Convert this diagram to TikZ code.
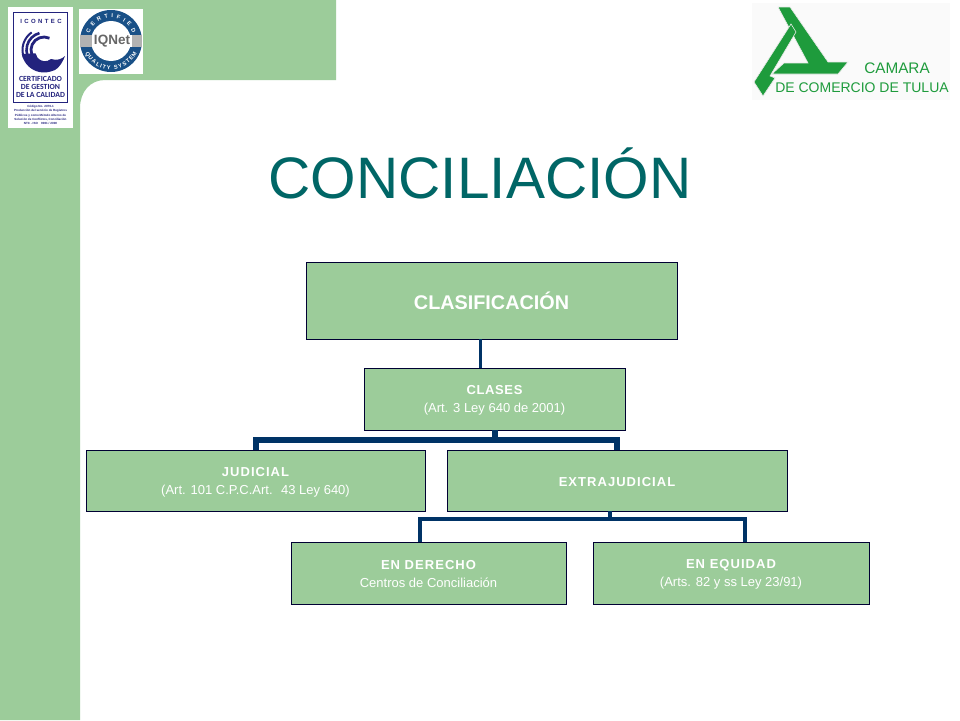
\documentclass[tikz,border=0pt]{standalone}
\usepackage{fontspec}
\setmainfont{Liberation Sans}
\newfontfamily\logofont{Carlito}
\usetikzlibrary{decorations.text}
\definecolor{BARGREEN}{RGB}{156,204,154}
\definecolor{TITLETEAL}{RGB}{0,102,102}
\definecolor{LINEBLUE}{RGB}{0,51,102}
\definecolor{LOGOGREEN}{RGB}{30,155,60}
\definecolor{SEALBLUE}{RGB}{25,80,135}
\definecolor{ICOBLUE}{RGB}{35,35,125}
\newcommand{\upstrut}{\rule{0pt}{12pt}}
\newcommand{\headtext}[2][8]{{\bfseries\addfontfeature{LetterSpace=#1}#2}}
\tikzset{
  boxnode/.style={draw=black!80!blue,line width=.8pt,fill=BARGREEN,text=white,align=center,inner sep=0pt,font=\fontsize{13}{18}\selectfont},
  treeline/.style={draw=LINEBLUE,line width=#1},
  logopiece/.style={fill=LOGOGREEN,draw=black!8,line width=.6pt},
  sealtext/.style={decoration={text along path,text align={fit to path},text={|\color{white}\bfseries\fontsize{5.6}{6}\selectfont|#1}},decorate}
}
\begin{document}
\begin{tikzpicture}[x=1pt,y=-1pt]
  \useasboundingbox (0,0) rectangle (960,720);
  \fill[white] (0,0) rectangle (960,720);
  % background band
  \fill[BARGREEN] (0,0) -- (336,0) -- (336,80) -- (105,80) .. controls (90,80) and (80,92) .. (80,108) -- (80,720) -- (0,720) -- cycle;

  % icontec seal
  \node[fill=white,minimum width=65pt,minimum height=121pt,inner sep=0pt] (icontec) at (40.5,67.5) {};
  \node[draw=ICOBLUE,line width=1pt,minimum width=54pt,minimum height=90pt,inner sep=0pt] (icoframe) at (40.5,57) {};
  \node[text=ICOBLUE,font=\bfseries\fontsize{6}{6}\selectfont\addfontfeature{LetterSpace=40}] (icotext) at (41,21) {ICONTEC};
  \begin{scope}[ICOBLUE]
    \draw[line width=2pt] (44,50) ++(125:21.5pt) arc (125:200:21.5pt);
    \draw[line width=2.6pt] (44,50) ++(105:17.5pt) arc (105:200:17.5pt);
    \draw[line width=2.8pt] (44,50) ++(65:13pt) arc (65:200:13pt);
    \fill (44,50) ++(190:22.5pt) arc (190:285:22.5pt) .. controls (57,71) and (62,64) .. (65,56)
      .. controls (62,59) and (57,61) .. (51,59) arc (-50:-170:9.5pt) -- cycle;
  \end{scope}
  \node[text=ICOBLUE,align=center,font=\logofont\bfseries\fontsize{7.8}{8.4}\selectfont] (icocert) at (40.5,87) {CERTIFICADO\\DE GESTION\\DE LA CALIDAD};
  \node[text=ICOBLUE,align=center,font=\bfseries\fontsize{3}{4.2}\selectfont] (icosmall) at (40.5,115) {Código No. 2079-1\\Producción del servicio de Registros\\Públicos y como Método Alterno de\\Solución de Conflictos, Conciliación\\NTC - ISO~~~~9001 / 2000};

  % iqnet seal
  \node[fill=white,minimum width=64pt,minimum height=65pt,inner sep=0pt] (iqnet) at (111,41) {};
  \fill[SEALBLUE] (iqnet.center) circle (31pt);
  \fill[white] (iqnet.center) circle (20pt);
  \fill[black!30] (80,35) rectangle (142,47);
  \node[fill=white,minimum width=40pt,minimum height=12pt,inner sep=0pt,text=black!60,font=\bfseries\fontsize{13.5}{14}\selectfont] (iqtext) at (112,41) {IQNet};
  \path[sealtext=CERTIFIED] (iqnet.center) ++(160:23pt) arc (160:20:23pt);
  \path[sealtext=QUALITY SYSTEM] (iqnet.center) ++(205:28.5pt) arc (205:335:28.5pt);

  % camara logo
  \fill[black!2] (752,3) rectangle (950,100);
  \draw[logopiece] (778,7) -- (790,7) -- (828,62) -- (848,62) -- (838,74) -- (772,74) -- (784,63) -- (808,63) -- cycle;
  \draw[logopiece] (791,24) -- (796,32) -- (770,76) -- (775,78) -- (763,96) -- (754,82) -- cycle;
  \node[text=LOGOGREEN,font=\fontsize{15.3}{15}\selectfont] (camara) at (897,68) {CAMARA};
  \node[text=LOGOGREEN,font=\fontsize{14}{14}\selectfont] (tulua) at (862,88) {DE COMERCIO DE TULUA};

  % title
  \node[text=TITLETEAL,font=\fontsize{58.5}{60}\selectfont] (title) at (480,173) {CONCILIACIÓN};

  % boxes
  \node[boxnode,minimum width=371pt,minimum height=77pt,font=\bfseries\fontsize{19.8}{22}\selectfont] (clasif) at (491.5,300.5) {CLASIFICACIÓN};
  \node[boxnode,minimum width=261pt,minimum height=62pt] (clases) at (494.5,399) {\upstrut\headtext[5]{CLASES}\\(Art. 3 Ley 640 de 2001)};
  \node[boxnode,minimum width=339pt,minimum height=61pt] (judicial) at (255.5,480.5) {\upstrut\headtext{JUDICIAL}\\(Art. 101 C.P.C.Art.~ 43 Ley 640)};
  \node[boxnode,minimum width=340pt,minimum height=61pt] (extra) at (617,480.5) {\upstrut\headtext{EXTRAJUDICIAL}};
  \node[boxnode,minimum width=275pt,minimum height=62pt] (derecho) at (428.5,573) {\upstrut\headtext{EN DERECHO}\\Centros de Conciliación};
  \node[boxnode,minimum width=276pt,minimum height=62pt] (equidad) at (731,573) {\upstrut\headtext{EN EQUIDAD}\\(Arts. 82 y ss Ley 23/91)};

  % connectors
  \draw[treeline=3pt] ([xshift=-11.5pt]clasif.south) -- ([xshift=-14.5pt]clases.north);
  \draw[treeline=6pt] (clases.south) -- +(0,12);
  \draw[treeline=6pt] (judicial.north) |- (clases.south |- 0,440) -| (extra.north);
  \draw[treeline=4pt] ([xshift=-7pt]extra.south) -- +(0,8);
  \draw[treeline=4pt] ([xshift=-8.5pt]derecho.north) |- (610,519) -| ([xshift=14pt]equidad.north);
\end{tikzpicture}
\end{document}
